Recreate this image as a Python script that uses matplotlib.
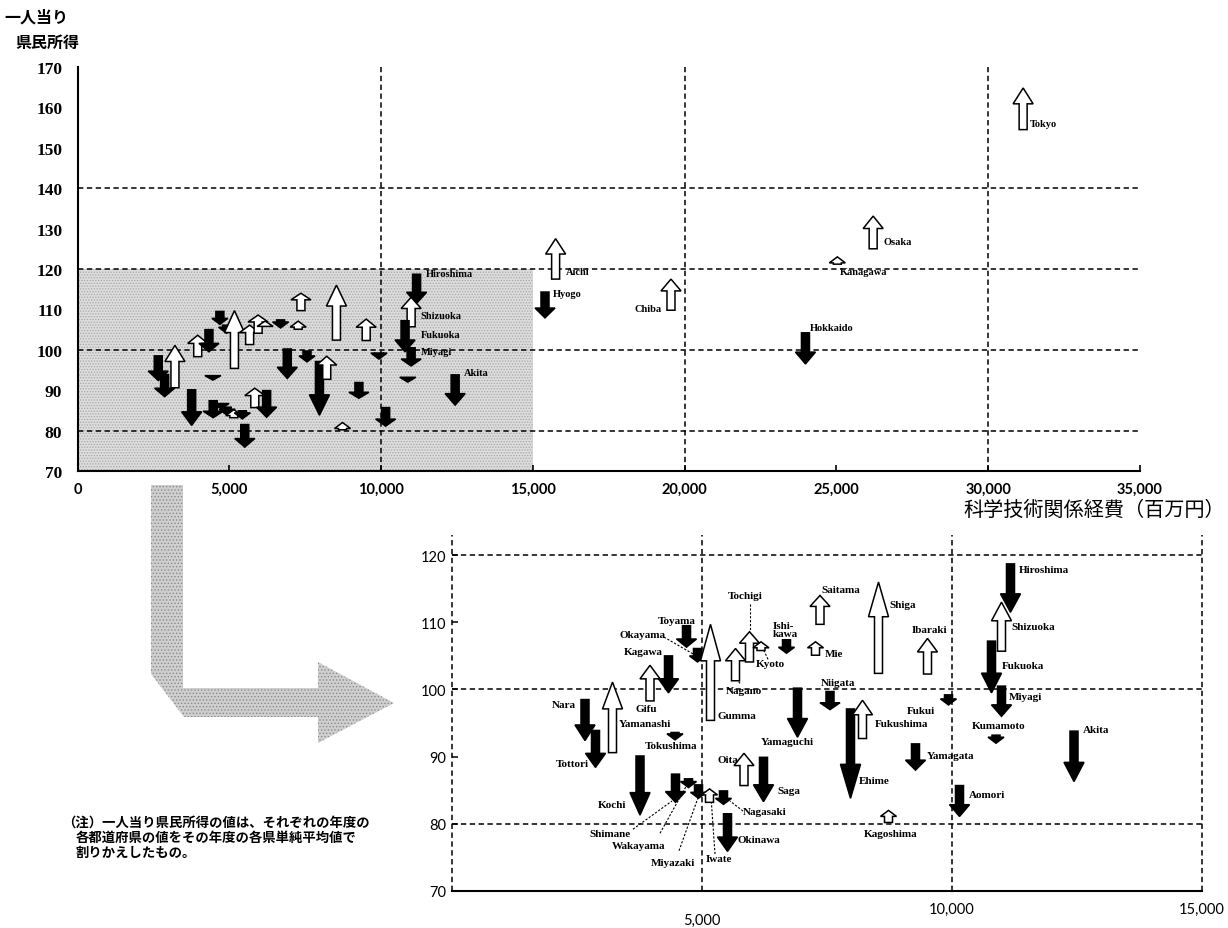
import matplotlib
matplotlib.use('Agg')
import matplotlib.pyplot as plt
from matplotlib.patches import Polygon, Rectangle

plt.rcParams['font.family'] = ['Liberation Serif', 'DejaVu Sans']
plt.rcParams['hatch.linewidth'] = 0.6

# ---------------- data ----------------
prefectures = [
    'Nara', 'Tottori', 'Yamanashi', 'Kochi', 'Gifu', 'Kagawa', 'Toyama', 'Okayama',
    'Gumma', 'Tokushima', 'Shimane', 'Wakayama', 'Miyazaki', 'Iwate', 'Nagasaki',
    'Okinawa', 'Oita', 'Saga', 'Nagano', 'Tochigi', 'Kyoto', 'Ishikawa', 'Mie',
    'Saitama', 'Yamaguchi', 'Niigata', 'Shiga', 'Ibaraki', 'Ehime', 'Fukushima',
    'Yamagata', 'Kagoshima', 'Fukui', 'Aomori', 'Hiroshima', 'Shizuoka', 'Fukuoka',
    'Miyagi', 'Kumamoto', 'Akita',
    'Aichi', 'Hyogo', 'Chiba', 'Kanagawa', 'Osaka', 'Hokkaido', 'Tokyo',
]
expenditure = [
    2660, 2870, 3210, 3760, 3960, 4330, 4690, 4910,
    5170, 4460, 4470, 4730, 4930, 5150, 5430,
    5510, 5840, 6230, 5670, 5950, 6180, 6690, 7270,
    7360, 6910, 7560, 8530, 9510, 7970, 8210,
    9270, 8730, 9930, 10150, 11170, 10990, 10790,
    10990, 10880, 12440,
    15750, 15400, 19550, 25030, 26210, 23980, 31150,
]
income_start = [
    98.5, 93.9, 90.6, 90.1, 98.3, 105.0, 109.5, 106.1,
    95.4, 93.6, 87.4, 86.7, 85.8, 83.2, 84.9,
    81.5, 85.7, 89.9, 101.3, 104.1, 105.8, 107.4, 105.1,
    109.7, 100.2, 99.7, 102.4, 102.3, 97.1, 92.7,
    91.9, 80.2, 99.2, 85.7, 118.7, 105.7, 107.2,
    100.5, 93.2, 93.8,
    117.5, 114.3, 109.8, 121.2, 125.0, 104.2, 154.5,
]
income_end = [
    92.4, 88.4, 101.1, 81.3, 103.6, 99.5, 106.3, 104.1,
    109.7, 92.5, 83.2, 85.4, 83.8, 85.2, 82.9,
    75.9, 90.5, 83.3, 106.1, 108.6, 107.1, 105.4, 107.1,
    114.0, 92.9, 97.0, 116.0, 107.6, 83.8, 98.4,
    88.0, 82.0, 97.7, 81.1, 111.5, 113.0, 99.5,
    96.0, 92.0, 86.3,
    127.5, 107.9, 117.5, 123.0, 133.1, 96.5, 164.8,
]

top_xticks = [0, 5000, 10000, 15000, 20000, 25000, 30000, 35000]
top_xticklabels = ['0', '5,000', '10,000', '15,000', '20,000', '25,000', '30,000', '35,000']
top_yticks = [70, 80, 90, 100, 110, 120, 130, 140, 150, 160, 170]
bot_xticks = [5000, 10000, 15000]
bot_xticklabels = ['5,000', '10,000', '15,000']
bot_yticks = [70, 80, 90, 100, 110, 120]

# ---------------- layout (label placement) ----------------
bottom_labels = {
    'Nara': (2000, 97.7), 'Tottori': (2080, 89.0), 'Yamanashi': (3340, 95.0),
    'Kochi': (2920, 82.9), 'Gifu': (3680, 97.2), 'Kagawa': (3440, 105.7),
    'Toyama': (4120, 110.3), 'Okayama': (3340, 108.2), 'Gumma': (5300, 96.2),
    'Tokushima': (3860, 91.7), 'Tochigi': (5520, 114.0), 'Ishikawa': (6420, 109.0),
    'Kyoto': (6080, 103.8), 'Mie': (7460, 105.4), 'Saitama': (7380, 114.9),
    'Nagano': (5480, 99.9), 'Niigata': (7380, 101.1), 'Yamaguchi': (6180, 92.2),
    'Oita': (5300, 89.6), 'Saga': (6500, 85.0), 'Nagasaki': (5820, 81.8),
    'Okinawa': (5700, 77.7), 'Iwate': (5080, 74.8), 'Miyazaki': (3980, 74.3),
    'Wakayama': (3200, 76.7), 'Shimane': (2740, 78.5), 'Shiga': (8740, 112.7),
    'Ibaraki': (9200, 109.0), 'Fukui': (9100, 96.9), 'Fukushima': (8460, 94.9),
    'Ehime': (8140, 86.5), 'Yamagata': (9500, 90.2), 'Kagoshima': (8240, 78.6),
    'Aomori': (10340, 84.3), 'Hiroshima': (11340, 117.9), 'Shizuoka': (11180, 109.4),
    'Fukuoka': (11000, 103.6), 'Miyagi': (11140, 99.0), 'Kumamoto': (10400, 94.6),
    'Akita': (12620, 94.0),
}
bottom_leaders = [
    ((4240, 107.8), (4820, 105.3)),   # Okayama
    ((5960, 112.7), (5960, 108.7)),   # Tochigi
    ((6320, 104.5), (6200, 106.4)),   # Kyoto
    ((5820, 81.9), (5560, 83.4)),     # Nagasaki
    ((5260, 75.5), (5180, 84.0)),     # Iwate
    ((4540, 76.0), (4960, 84.7)),     # Miyazaki
    ((4160, 78.6), (4700, 85.8)),     # Wakayama
    ((3620, 79.2), (4400, 83.4)),     # Shimane
    ((5760, 100.9), (5700, 101.6)),   # Nagano
]
top_labels = {
    'Tokyo': (31380, 156.1), 'Osaka': (26550, 126.9), 'Kanagawa': (25130, 119.5),
    'Aichi': (16080, 119.3), 'Hyogo': (15670, 114.0), 'Chiba': (18340, 110.3),
    'Hokkaido': (24140, 105.6), 'Hiroshima': (11470, 119.0), 'Shizuoka': (11310, 108.6),
    'Fukuoka': (11310, 103.9), 'Miyagi': (11310, 99.5), 'Akita': (12740, 94.3),
}

W, H = 1228, 929
fig = plt.figure(figsize=(W / 100, H / 100), dpi=100)
fig.patch.set_facecolor('white')


def px_rect(l, t, r, b):
    return [l / W, 1 - b / H, (r - l) / W, (b - t) / H]


def draw_arrow(ax, x, y0, y1):
    up = y1 > y0
    p0 = ax.transData.transform((x, y0))
    p1 = ax.transData.transform((x, y1))
    L = abs(p1[1] - p0[1])
    sg = 1 if p1[1] > p0[1] else -1
    h = min(L, max(0.38 * L, 6))
    w = 10 if L >= 15 else 8
    s = 4
    cx = p0[0]
    yb = p1[1] - sg * h
    pts = [(cx - s, p0[1]), (cx - s, yb), (cx - w, yb), (cx, p1[1]),
           (cx + w, yb), (cx + s, yb), (cx + s, p0[1])]
    dpts = ax.transData.inverted().transform(pts)
    ax.add_patch(Polygon(dpts, closed=True, fc='white' if up else 'black',
                         ec='black', lw=1.1, zorder=3, clip_on=False,
                         joinstyle='miter'))


dash = (0, (3.5, 2.3))

# ---------------- top chart ----------------
ax1 = fig.add_axes(px_rect(77.5, 68, 1140, 472))
ax1.set_xlim(0, 35000)
ax1.set_ylim(70, 170)
for sp in ['top', 'right']:
    ax1.spines[sp].set_visible(False)
for sp in ['left', 'bottom']:
    ax1.spines[sp].set_linewidth(1.5)
ax1.set_xticks(top_xticks, top_xticklabels, fontfamily='Lato', fontweight='bold', fontsize=10.5)
ax1.tick_params(axis='x', direction='in', length=4, width=1.2, pad=8)
ax1.set_yticks(top_yticks, [str(v) for v in top_yticks], fontweight='bold', fontsize=12.5)
ax1.tick_params(axis='y', length=0, pad=11)
ax1.set_yticks([170], minor=True)
ax1.tick_params(axis='y', which='minor', direction='in', length=5, width=1.5)

ax1.add_patch(Rectangle((0, 70), 15000, 50, fc='#dcdcdc', ec='#a8a8a8',
                        hatch='......', lw=0, zorder=0))
for xv in [10000, 20000, 30000]:
    ax1.axvline(xv, color='black', lw=1.1, ls=dash, zorder=1)
for yv in [80, 100, 120, 140]:
    ax1.axhline(yv, color='black', lw=1.1, ls=dash, zorder=1)

for name, x, a, b in zip(prefectures, expenditure, income_start, income_end):
    draw_arrow(ax1, x, a, b)
for name, (lx, ly) in top_labels.items():
    ax1.text(lx, ly, name, fontsize=7.5, fontweight='bold', ha='left', va='center', zorder=4)

# ---------------- bottom (enlarged) chart ----------------
ax2 = fig.add_axes(px_rect(452, 536, 1202, 892))
ax2.set_xlim(0, 15000)
ax2.set_ylim(70, 123)
for sp in ['top', 'right', 'left']:
    ax2.spines[sp].set_visible(False)
ax2.spines['bottom'].set_linewidth(1.5)
ax2.set_xticks([])
ax2.set_yticks(bot_yticks, [str(v) for v in bot_yticks], fontfamily='Lato', fontsize=10.5)
ax2.tick_params(axis='y', direction='in', length=4, width=1.1, pad=4)
for xv in [0, 5000, 10000, 15000]:
    ax2.axvline(xv, color='black', lw=1.1, ls=dash, zorder=1, clip_on=False)
for yv in [80, 100, 120]:
    ax2.axhline(yv, color='black', lw=1.1, ls=dash, zorder=1)
for xv, lab in zip(bot_xticks, bot_xticklabels):
    yoff = -0.082 if xv == 5000 else -0.05
    ax2.text(xv, yoff, lab, transform=ax2.get_xaxis_transform(), ha='center', va='center',
             fontfamily='Lato', fontsize=10.5)

for name, x, a, b in zip(prefectures, expenditure, income_start, income_end):
    if x <= 15000:
        draw_arrow(ax2, x, a, b)
for name, (lx, ly) in bottom_labels.items():
    txt = 'Ishi-\nkawa' if name == 'Ishikawa' else name
    ax2.text(lx, ly, txt, fontsize=8, fontweight='bold', ha='left', va='center',
             linespacing=0.85, zorder=4)
for (xa, ya), (xb, yb) in bottom_leaders:
    ax2.plot([xa, xb], [ya, yb], color='black', lw=0.8, ls=(0, (2, 1.5)), zorder=2)

# ---------------- big connecting arrow ----------------
L_pts = [(151, 486), (151, 675), (184, 718), (318, 718), (318, 744), (394, 704),
         (318, 663), (318, 689), (183, 689), (183, 486)]
fig.add_artist(Polygon([(x / W, 1 - y / H) for x, y in L_pts], closed=True,
                       transform=fig.transFigure, fc='#cfcfcf', ec='#8a8a8a',
                       hatch='.....', lw=0))

# ---------------- texts ----------------
cjk = ['Noto Sans CJK JP', 'DejaVu Sans']
fig.text(4 / W, 1 - 18 / H, '一人当り', fontfamily=cjk, fontweight='bold', fontsize=11.5,
         ha='left', va='center')
fig.text(15 / W, 1 - 43 / H, '県民所得', fontfamily=cjk, fontweight='bold', fontsize=11.5,
         ha='left', va='center')
fig.text(1225 / W, 1 - 510 / H, '科学技術関係経費（百万円）', fontfamily=cjk, fontsize=14.5,
         ha='right', va='center')
note_fs = 9.6
fig.text(62 / W, 1 - 823 / H, '（注）一人当り県民所得の値は、それぞれの年度の', fontfamily=cjk,
         fontweight='bold', fontsize=note_fs, ha='left', va='center')
fig.text(76 / W, 1 - 838 / H, '各都道府県の値をその年度の各県単純平均値で', fontfamily=cjk,
         fontweight='bold', fontsize=note_fs, ha='left', va='center')
fig.text(76 / W, 1 - 853 / H, '割りかえしたもの。', fontfamily=cjk,
         fontweight='bold', fontsize=note_fs, ha='left', va='center')

fig.savefig('out.png', dpi=100)
